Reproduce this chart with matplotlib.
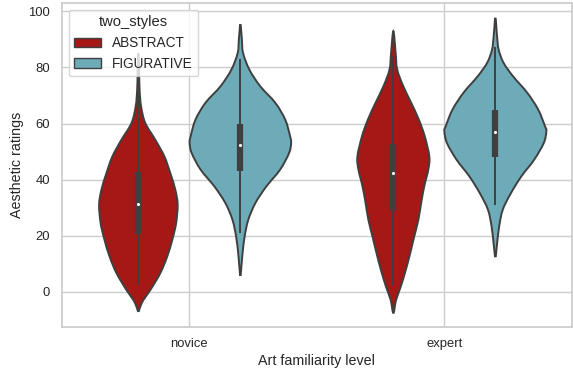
import numpy as np
import matplotlib
matplotlib.use("Agg")
import matplotlib.pyplot as plt
from matplotlib.path import Path
from matplotlib.patches import PathPatch, Patch
import seaborn as sns

sns.set_theme(style="whitegrid")
plt.rcParams["font.family"] = ["Liberation Sans", "DejaVu Sans"]

levels = ["novice", "expert"]
styles = ["ABSTRACT", "FIGURATIVE"]
style_colors = {"ABSTRACT": "#a51815", "FIGURATIVE": "#6eabb9"}

# density outlines: rating values and half widths (category units)
novice_abstract_y = [-7.0, -5.2, -2.9, 0.7, 6.7, 12.6, 18.6, 24.5, 31.1, 36.4,
                     42.4, 48.3, 54.3, 60.2, 66.2, 72.1, 78.0, 85.0]
novice_abstract_w = [0, .0078, .0195, .047, .086, .113, .133, .148, .154, .145,
                     .125, .102, .066, .027, .0105, .0047, .003, 0]
novice_figurative_y = [5.7, 9.0, 13.8, 19.8, 25.7, 31.7, 37.6, 43.6, 49.5, 53.1,
                       55.5, 61.4, 67.4, 73.3, 79.3, 85.2, 90.0, 95.4]
novice_figurative_w = [0, .0039, .0086, .0168, .031, .059, .102, .156, .191, .199,
                       .195, .176, .137, .078, .035, .0105, .0059, 0]
expert_abstract_y = [-7.6, -2.9, 1.9, 7.9, 13.8, 19.8, 25.7, 31.7, 37.6, 43.6,
                     48.3, 55.5, 61.4, 67.4, 73.3, 79.3, 85.2, 93.0]
expert_abstract_w = [0, .0105, .029, .049, .066, .082, .098, .109, .121, .137,
                     .141, .123, .100, .070, .039, .015, .009, 0]
expert_figurative_y = [12.4, 17.4, 23.3, 29.3, 35.2, 41.2, 47.1, 53.1, 57.3, 59.0,
                       65.0, 71.0, 76.9, 81.7, 86.4, 91.2, 97.7]
expert_figurative_w = [0, .007, .0148, .029, .061, .102, .152, .190, .200, .195,
                       .168, .125, .069, .032, .0129, .0066, 0]

# inner box: q1, median, q3, lower whisker, upper whisker
novice_abstract_box = [20.7, 31.4, 42.6, 2.5, 71.5]
novice_figurative_box = [43.2, 52.3, 60.0, 21.0, 82.9]
expert_abstract_box = [28.9, 42.4, 52.9, 2.0, 84.0]
expert_figurative_box = [48.1, 56.9, 65.0, 31.1, 87.4]

violins = {
    ("novice", "ABSTRACT"): (novice_abstract_y, novice_abstract_w, novice_abstract_box),
    ("novice", "FIGURATIVE"): (novice_figurative_y, novice_figurative_w, novice_figurative_box),
    ("expert", "ABSTRACT"): (expert_abstract_y, expert_abstract_w, expert_abstract_box),
    ("expert", "FIGURATIVE"): (expert_figurative_y, expert_figurative_w, expert_figurative_box),
}


def smooth_outline(pts):
    """Closed Catmull-Rom loop through pts, returned as a cubic Bezier path."""
    n = len(pts)
    verts = [pts[0]]
    codes = [Path.MOVETO]
    for i in range(n):
        p0, p1, p2, p3 = pts[i - 1], pts[i], pts[(i + 1) % n], pts[(i + 2) % n]
        c1 = p1 + (p2 - p0) / 6.0
        c2 = p2 - (p3 - p1) / 6.0
        verts += [c1, c2, p2]
        codes += [Path.CURVE4] * 3
    return Path(np.array(verts), codes)


fig, ax = plt.subplots(figsize=(5.73, 3.72), dpi=100)
fig.subplots_adjust(left=0.108, right=0.998, top=0.992, bottom=0.121)

edge = "#3f3f3f"
offsets = {"ABSTRACT": -0.2, "FIGURATIVE": 0.2}
for i, level in enumerate(levels):
    for style in styles:
        ys, ws, box = violins[(level, style)]
        c = i + offsets[style]
        ys = np.array(ys)
        ws = np.array(ws)
        right = np.column_stack([c + ws, ys])
        left = np.column_stack([c - ws[-2:0:-1], ys[-2:0:-1]])
        pts = np.vstack([right, left])
        ax.add_patch(PathPatch(smooth_outline(pts), facecolor=style_colors[style],
                               edgecolor=edge, linewidth=1.4, zorder=2))
        q1, med, q3, lo, hi = box
        ax.plot([c, c], [lo, hi], color=edge, linewidth=1.4, zorder=3,
                solid_capstyle="butt")
        ax.plot([c, c], [q1, q3], color=edge, linewidth=4.5, zorder=3,
                solid_capstyle="butt")
        ax.scatter([c], [med], s=5, color="white", zorder=4, linewidths=0)

ax.set_xlim(-0.5, 1.5)
ax.set_ylim(-12.5, 103)
ax.set_xticks(range(len(levels)))
ax.set_xticklabels(levels)
ax.set_yticks([0, 20, 40, 60, 80, 100])
ax.tick_params(axis="x", labelsize=9.4, pad=2)
ax.tick_params(axis="y", labelsize=9.4, pad=2.5)
ax.set_xlabel("Art familiarity level", fontsize=10.3, labelpad=2.5)
ax.set_ylabel("Aesthetic ratings", fontsize=10.3, labelpad=3)

handles = [Patch(facecolor=style_colors[s], edgecolor=edge, linewidth=1.0, label=s)
           for s in styles]
leg = ax.legend(handles=handles, title="two_styles", loc="upper left",
                fontsize=9.8, title_fontsize=10.6, borderaxespad=0.5)

fig.savefig("out.png", dpi=100)
